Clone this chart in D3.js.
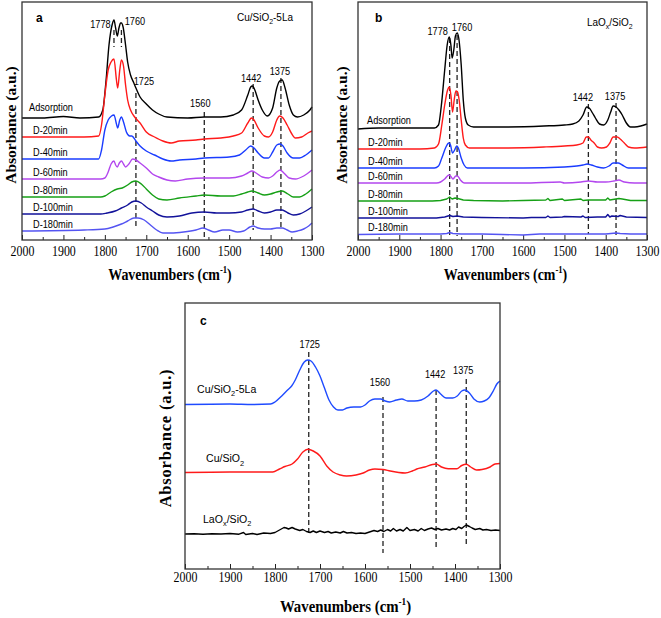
<!DOCTYPE html>
<html><head><meta charset="utf-8">
<script src="https://cdn.jsdelivr.net/npm/d3@7"></script>
<style>body{margin:0;background:#fff}svg{display:block}</style>
</head><body>
<svg id="chart" width="661" height="618"></svg>
<script>
// ---------- DATA (wavenumber cm-1, absorbance a.u.) ----------
const xTicks = [2000,1900,1800,1700,1600,1500,1400,1300];
const xMinor = [1950,1850,1750,1650,1550,1450,1350];
const seriesNames = ["Adsorption","D-20min","D-40min","D-60min","D-80min","D-100min","D-180min"];

// Panel a: Cu/SiO2-5La
const aAds = [[2000,1.22],[1950,1.22],[1900,1.235],[1860,1.22],[1815,1.23],[1805,1.30],[1797,1.60],[1790,1.95],[1782,2.16],[1778,2.20],[1774,2.12],[1770,2.04],[1766,2.12],[1762,2.17],[1760,2.17],[1756,2.13],[1750,1.95],[1745,1.78],[1738,1.65],[1730,1.57],[1725,1.52],[1715,1.43],[1700,1.36],[1685,1.30],[1670,1.26],[1650,1.23],[1600,1.22],[1560,1.23],[1520,1.23],[1490,1.25],[1470,1.30],[1455,1.45],[1448,1.53],[1444,1.54],[1438,1.50],[1430,1.40],[1420,1.30],[1408,1.24],[1395,1.32],[1385,1.52],[1378,1.59],[1372,1.60],[1365,1.52],[1355,1.35],[1345,1.25],[1335,1.23],[1320,1.25],[1305,1.30],[1300,1.33]];
const aD20 = [[2000,1.03],[1850,1.03],[1815,1.04],[1808,1.15],[1800,1.45],[1792,1.70],[1785,1.78],[1778,1.81],[1772,1.60],[1769,1.52],[1764,1.70],[1760,1.80],[1755,1.74],[1750,1.55],[1745,1.40],[1738,1.30],[1728,1.23],[1715,1.17],[1700,1.08],[1680,1.03],[1660,0.99],[1640,0.97],[1620,0.99],[1580,1.00],[1560,1.01],[1520,1.02],[1490,1.04],[1470,1.07],[1455,1.17],[1446,1.22],[1440,1.20],[1430,1.12],[1415,1.04],[1405,1.03],[1395,1.08],[1385,1.20],[1378,1.24],[1370,1.22],[1360,1.15],[1350,1.07],[1340,1.02],[1325,1.03],[1310,1.07],[1300,1.09]];
const aD40 = [[2000,0.81],[1815,0.81],[1808,0.90],[1800,1.10],[1792,1.20],[1784,1.24],[1778,1.25],[1772,1.16],[1769,1.12],[1764,1.20],[1760,1.23],[1755,1.18],[1748,1.08],[1740,1.04],[1735,1.04],[1725,0.99],[1715,0.94],[1700,0.89],[1680,0.85],[1660,0.81],[1640,0.79],[1620,0.80],[1580,0.81],[1560,0.82],[1500,0.83],[1475,0.85],[1460,0.90],[1448,0.94],[1440,0.92],[1430,0.87],[1415,0.82],[1405,0.82],[1395,0.88],[1385,0.95],[1377,0.96],[1370,0.94],[1360,0.87],[1345,0.82],[1330,0.82],[1315,0.85],[1300,0.90]];
const aD60 = [[2000,0.61],[1810,0.61],[1800,0.62],[1792,0.68],[1785,0.76],[1778,0.79],[1774,0.75],[1770,0.73],[1765,0.77],[1760,0.79],[1755,0.76],[1750,0.73],[1742,0.76],[1733,0.81],[1725,0.80],[1715,0.77],[1700,0.72],[1685,0.66],[1670,0.63],[1650,0.60],[1630,0.59],[1600,0.61],[1560,0.62],[1500,0.62],[1470,0.64],[1455,0.67],[1445,0.69],[1435,0.67],[1420,0.63],[1405,0.62],[1395,0.64],[1385,0.68],[1377,0.70],[1368,0.67],[1355,0.62],[1340,0.61],[1320,0.64],[1300,0.70]];
const aD80 = [[2000,0.43],[1810,0.43],[1800,0.44],[1785,0.48],[1770,0.51],[1758,0.52],[1745,0.55],[1735,0.58],[1725,0.59],[1712,0.56],[1700,0.51],[1685,0.45],[1670,0.41],[1650,0.40],[1620,0.42],[1580,0.44],[1560,0.45],[1520,0.44],[1490,0.44],[1470,0.46],[1455,0.48],[1445,0.49],[1430,0.47],[1415,0.45],[1400,0.46],[1385,0.48],[1372,0.49],[1358,0.46],[1345,0.43],[1330,0.43],[1315,0.46],[1300,0.51]];
const aD100 = [[2000,0.26],[1810,0.26],[1795,0.27],[1775,0.29],[1760,0.32],[1745,0.35],[1735,0.38],[1725,0.39],[1712,0.37],[1700,0.33],[1685,0.29],[1670,0.25],[1650,0.23],[1620,0.24],[1590,0.27],[1560,0.28],[1530,0.27],[1500,0.27],[1470,0.28],[1455,0.30],[1442,0.31],[1430,0.29],[1415,0.27],[1400,0.28],[1385,0.30],[1372,0.30],[1358,0.27],[1345,0.25],[1330,0.26],[1315,0.29],[1300,0.33]];
const aD180 = [[2000,0.09],[1850,0.10],[1800,0.11],[1780,0.13],[1760,0.16],[1745,0.19],[1730,0.22],[1720,0.22],[1705,0.20],[1690,0.15],[1675,0.10],[1660,0.07],[1640,0.07],[1610,0.08],[1580,0.10],[1563,0.12],[1550,0.10],[1535,0.08],[1515,0.10],[1500,0.10],[1480,0.08],[1465,0.09],[1450,0.13],[1442,0.14],[1430,0.12],[1415,0.11],[1400,0.11],[1385,0.12],[1372,0.12],[1360,0.10],[1348,0.08],[1335,0.09],[1320,0.11],[1308,0.14],[1300,0.17]];

// Panel b: LaOx/SiO2
const bAds = [[2000,1.11],[1950,1.12],[1900,1.12],[1850,1.12],[1815,1.12],[1805,1.15],[1798,1.35],[1790,1.70],[1784,1.95],[1779,2.03],[1775,1.95],[1772,1.82],[1768,1.90],[1764,2.04],[1760,2.07],[1756,2.02],[1750,1.75],[1745,1.40],[1740,1.22],[1733,1.15],[1720,1.13],[1650,1.13],[1550,1.14],[1500,1.15],[1480,1.16],[1465,1.19],[1455,1.25],[1446,1.33],[1440,1.32],[1432,1.27],[1425,1.22],[1415,1.16],[1405,1.15],[1395,1.20],[1388,1.28],[1382,1.34],[1375,1.33],[1368,1.30],[1360,1.25],[1350,1.17],[1340,1.13],[1330,1.13],[1315,1.14],[1300,1.16]];
const bD20 = [[2000,0.91],[1850,0.91],[1815,0.92],[1805,0.96],[1797,1.15],[1790,1.35],[1783,1.50],[1779,1.53],[1775,1.45],[1771,1.28],[1767,1.40],[1763,1.49],[1759,1.48],[1755,1.40],[1750,1.20],[1745,1.02],[1740,0.95],[1730,0.92],[1650,0.92],[1550,0.93],[1500,0.94],[1470,0.95],[1455,0.97],[1447,1.03],[1442,1.03],[1436,1.00],[1428,0.97],[1420,0.93],[1410,0.92],[1398,0.93],[1390,0.97],[1382,1.03],[1372,1.03],[1365,1.01],[1355,0.97],[1345,0.93],[1330,0.92],[1300,0.93]];
const bD40 = [[2000,0.72],[1815,0.72],[1805,0.74],[1797,0.82],[1788,0.92],[1780,0.97],[1776,0.95],[1771,0.87],[1766,0.90],[1761,0.94],[1757,0.92],[1750,0.82],[1743,0.75],[1735,0.72],[1600,0.72],[1500,0.73],[1470,0.74],[1455,0.75],[1445,0.76],[1435,0.75],[1420,0.73],[1405,0.72],[1392,0.74],[1382,0.77],[1370,0.77],[1360,0.75],[1345,0.72],[1300,0.72]];
const bD60 = [[2000,0.57],[1810,0.57],[1800,0.58],[1790,0.61],[1780,0.65],[1776,0.64],[1770,0.61],[1763,0.64],[1759,0.64],[1752,0.60],[1742,0.57],[1600,0.57],[1510,0.58],[1500,0.57],[1460,0.58],[1442,0.59],[1420,0.58],[1400,0.58],[1380,0.59],[1368,0.60],[1355,0.58],[1330,0.57],[1300,0.57]];
const bD80 = [[2000,0.39],[1900,0.39],[1820,0.39],[1800,0.395],[1785,0.41],[1778,0.43],[1772,0.41],[1765,0.42],[1758,0.415],[1745,0.40],[1720,0.395],[1650,0.39],[1600,0.395],[1545,0.40],[1540,0.415],[1535,0.395],[1505,0.41],[1500,0.395],[1460,0.41],[1455,0.395],[1442,0.40],[1400,0.40],[1395,0.42],[1390,0.40],[1368,0.415],[1360,0.41],[1340,0.395],[1300,0.395]];
const bD100 = [[2000,0.22],[1900,0.22],[1810,0.22],[1790,0.23],[1778,0.245],[1770,0.235],[1760,0.24],[1745,0.23],[1700,0.225],[1600,0.22],[1580,0.225],[1545,0.225],[1540,0.24],[1535,0.225],[1505,0.23],[1500,0.235],[1460,0.23],[1455,0.24],[1450,0.225],[1420,0.23],[1400,0.23],[1395,0.255],[1390,0.23],[1385,0.24],[1370,0.235],[1365,0.245],[1350,0.23],[1300,0.225]];
const bD180 = [[2000,0.055],[1900,0.06],[1800,0.06],[1785,0.065],[1778,0.075],[1770,0.065],[1750,0.06],[1700,0.06],[1650,0.055],[1600,0.05],[1560,0.06],[1500,0.06],[1450,0.06],[1400,0.06],[1375,0.07],[1365,0.065],[1340,0.06],[1300,0.06]];

// Panel c
const cCuLa = [[2000,1.645],[1900,1.65],[1850,1.645],[1810,1.65],[1800,1.67],[1785,1.73],[1772,1.79],[1763,1.83],[1755,1.89],[1745,1.99],[1735,2.07],[1727,2.09],[1720,2.08],[1710,2.02],[1700,1.93],[1690,1.81],[1680,1.69],[1670,1.62],[1660,1.59],[1650,1.59],[1640,1.61],[1625,1.62],[1610,1.62],[1600,1.64],[1590,1.68],[1578,1.70],[1565,1.70],[1555,1.68],[1545,1.67],[1530,1.69],[1518,1.70],[1505,1.68],[1490,1.68],[1475,1.69],[1460,1.73],[1448,1.78],[1442,1.79],[1432,1.75],[1420,1.71],[1405,1.71],[1395,1.73],[1385,1.78],[1378,1.79],[1368,1.76],[1358,1.70],[1345,1.67],[1335,1.68],[1325,1.71],[1315,1.78],[1307,1.85],[1300,1.88]];
const cCu = [[2000,0.965],[1900,0.97],[1805,0.97],[1790,1.00],[1778,1.025],[1762,1.05],[1750,1.10],[1738,1.17],[1727,1.197],[1715,1.18],[1700,1.13],[1685,1.03],[1671,0.97],[1655,0.94],[1641,0.93],[1620,0.94],[1604,0.96],[1590,0.99],[1578,1.00],[1560,0.995],[1544,0.98],[1525,0.965],[1511,0.96],[1495,0.98],[1485,1.00],[1467,1.02],[1450,1.045],[1442,1.05],[1430,1.02],[1415,1.003],[1396,1.003],[1385,1.035],[1375,1.047],[1365,1.02],[1352,0.99],[1340,0.995],[1322,1.02],[1311,1.05],[1300,1.055]];
const cLa = [[2000,0.35],[1980,0.352],[1960,0.348],[1940,0.353],[1920,0.35],[1900,0.355],[1880,0.348],[1870,0.365],[1865,0.345],[1850,0.355],[1840,0.345],[1825,0.36],[1810,0.355],[1800,0.365],[1790,0.39],[1780,0.415],[1775,0.41],[1770,0.40],[1762,0.415],[1755,0.40],[1745,0.385],[1738,0.395],[1730,0.375],[1722,0.365],[1715,0.38],[1708,0.365],[1700,0.38],[1690,0.365],[1682,0.375],[1675,0.36],[1665,0.37],[1655,0.36],[1648,0.375],[1640,0.36],[1630,0.365],[1620,0.355],[1610,0.36],[1600,0.355],[1590,0.37],[1580,0.385],[1572,0.375],[1565,0.39],[1558,0.375],[1550,0.395],[1543,0.38],[1537,0.405],[1530,0.38],[1522,0.395],[1515,0.38],[1507,0.415],[1500,0.385],[1490,0.395],[1482,0.38],[1475,0.405],[1468,0.385],[1460,0.40],[1452,0.41],[1445,0.395],[1438,0.405],[1430,0.39],[1420,0.40],[1412,0.39],[1405,0.405],[1398,0.395],[1392,0.42],[1385,0.405],[1380,0.425],[1375,0.44],[1368,0.425],[1362,0.41],[1355,0.395],[1345,0.405],[1338,0.39],[1330,0.395],[1320,0.385],[1310,0.39],[1300,0.385]];

// Marker lines: [wavenumber, top a.u., bottom a.u.]
const aMarks = [[1778,2.10,1.93],[1760,2.10,1.93],[1725,1.47,0.11],[1560,1.28,0.0],[1442,1.56,0.10],[1375,1.62,0.12]];
const bMarks = [[1778,2.02,0.04],[1760,2.05,0.04],[1442,1.36,0.06],[1375,1.37,0.05]];
const cMarks = [[1725,2.17,0.34],[1560,1.72,0.16],[1442,1.79,0.21],[1375,1.90,0.22]];
// Peak labels: [wavenumber, label height a.u.]
const aPeaks = [[1778,2.12],[1760,2.15],[1725,1.55],[1560,1.33],[1442,1.58],[1375,1.65]];
const bPeaks = [[1778,2.05],[1760,2.09],[1442,1.39],[1375,1.40]];
const cPeaks = [[1725,2.213],[1560,1.83],[1442,1.91],[1375,1.947]];

// ---------- DRAWING ----------
const svg = d3.select('#chart');
const SANS = "'Liberation Sans', Arial, sans-serif";
const SERIF = "'Liberation Serif', 'Times New Roman', serif";

function txt(g, x, y, parts, o) {
  const size = o.size;
  const t = g.append('text')
    .attr('transform', `translate(${x},${y})` + (o.rotate ? ` rotate(${o.rotate})` : '') + ` scale(${o.sx || 1},1)`)
    .attr('font-family', o.family || SANS)
    .attr('font-size', size)
    .attr('font-weight', o.weight || 'normal')
    .attr('text-anchor', o.anchor || 'start')
    .attr('letter-spacing', o.ls || 0)
    .attr('fill', '#000');
  let cur = 0;
  parts.forEach(p => {
    let s = p, target = 0, fs = size;
    if (typeof p === 'object') {
      s = p.t;
      if (p.sub) { target = size * 0.32; fs = size * 0.7; }
      if (p.sup) { target = -size * 0.42; fs = size * 0.62; }
    }
    t.append('tspan').attr('dy', target - cur).attr('font-size', fs).text(s);
    cur = target;
  });
  return t;
}

function panel(cfg) {
  const g = svg.append('g');
  const x = d3.scaleLinear().domain([2000, 1300]).range([cfg.x0, cfg.x1]);
  const y = d3.scaleLinear().domain([0, cfg.ymax]).range([cfg.y1, cfg.y0]);

  // minor & major ticks (inward)
  g.append('g').attr('transform', `translate(0,${cfg.y1})`)
    .call(d3.axisBottom(x).tickValues(xMinor).tickSize(-3).tickFormat(''))
    .call(a => a.select('.domain').remove())
    .selectAll('line').attr('stroke', '#222').attr('stroke-width', 1);
  const ax = g.append('g').attr('transform', `translate(0,${cfg.y1})`)
    .call(d3.axisBottom(x).tickValues(xTicks).tickSizeInner(-5).tickSizeOuter(0).tickPadding(cfg.tickPad).tickFormat(d3.format('d')));
  ax.select('.domain').remove();
  ax.selectAll('line').attr('stroke', '#222').attr('stroke-width', 1);
  ax.selectAll('text').attr('font-family', SERIF).attr('font-size', 14).attr('fill', '#000')
    .attr('transform', 'scale(0.85,1)');

  // marker dashes
  cfg.marks.forEach(m => {
    g.append('line').attr('x1', x(m[0])).attr('x2', x(m[0]))
      .attr('y1', y(m[1])).attr('y2', y(m[2]))
      .attr('stroke', '#222').attr('stroke-width', 1.3).attr('stroke-dasharray', '5,3');
  });

  // curves
  cfg.series.forEach(s => {
    const line = d3.line().x(d => x(d[0])).y(d => y(d[1]))
      .curve(s.noisy ? d3.curveLinear : d3.curveMonotoneX);
    g.append('path').datum(s.data).attr('d', line)
      .attr('fill', 'none').attr('stroke', s.color).attr('stroke-width', 1.4)
      .attr('stroke-linejoin', 'round');
    txt(g, cfg.x0 + s.lx, y(s.data[0][1]) - s.gap, s.label, {size: cfg.lblSize, sx: 0.92});
  });

  // peak labels
  cfg.peaks.forEach((p, i) => {
    txt(g, x(p[0]) + cfg.peakDx[i], y(p[1]), [String(p[0])], {size: 10, anchor: 'middle', sx: 0.92});
  });

  // frame
  g.append('rect').attr('x', cfg.x0).attr('y', cfg.y0)
    .attr('width', cfg.x1 - cfg.x0).attr('height', cfg.y1 - cfg.y0)
    .attr('fill', 'none').attr('stroke', '#333').attr('stroke-width', 1.3);

  // panel letter and sample name
  txt(g, cfg.letter[1], cfg.letter[2], [cfg.letter[0]], {size: 12, weight: 'bold'});
  if (cfg.sample) txt(g, cfg.sample.x, cfg.sample.y, cfg.sample.parts, {size: 10.5, sx: 0.95});

  // axis titles
  txt(g, (cfg.x0 + cfg.x1) / 2 + 3, cfg.titleY, ['Wavenumbers (cm', {t: '-1', sup: true}, {t: ')'}],
      {family: SERIF, size: cfg.titleSize, weight: 'bold', anchor: 'middle', sx: 0.87});
  txt(g, cfg.yLabel[0], cfg.yLabel[1], ['Absorbance (a.u.)'],
      {family: SERIF, size: cfg.yLabel[2], weight: 'bold', anchor: 'middle', rotate: -90, ls: cfg.yLabel[3] || 0});
}

const colors = ['#000000', '#ff1a1a', '#1a3cff', '#b347ee', '#16a016', '#12129a', '#5454f2'];
const aData = [aAds, aD20, aD40, aD60, aD80, aD100, aD180];
const bData = [bAds, bD20, bD40, bD60, bD80, bD100, bD180];

panel({
  x0: 22, x1: 312, y0: 2, y1: 240, ymax: 2.38, tickPad: 6.5, titleY: 280, titleSize: 16,
  lblSize: 10,
  series: aData.map((d, i) => ({data: d, color: colors[i], label: [seriesNames[i]], lx: i === 0 ? 7 : 11, gap: i === 0 ? 7 : 3})),
  marks: aMarks, peaks: aPeaks, peakDx: [-13.5, 13.5, 8, -4, -2, -1],
  letter: ['a', 36, 22],
  sample: {x: 237, y: 21, parts: ['Cu/SiO', {t: '2', sub: true}, {t: '-5La'}]},
  yLabel: [16, 125, 15.5]
});

panel({
  x0: 358, x1: 647, y0: 2, y1: 240, ymax: 2.38, tickPad: 6.5, titleY: 280, titleSize: 16,
  lblSize: 10,
  series: bData.map((d, i) => ({data: d, color: colors[i], label: [seriesNames[i]], lx: i === 0 ? 9 : 10, gap: i === 0 ? 5 : 3.5, noisy: i >= 4})),
  marks: bMarks, peaks: bPeaks, peakDx: [-12, 5, -5.5, -1],
  letter: ['b', 375, 22],
  sample: {x: 587, y: 26, parts: ['LaO', {t: 'x', sub: true}, {t: '/SiO'}, {t: '2', sub: true}]},
  yLabel: [347, 125, 15.5]
});

panel({
  x0: 185, x1: 500, y0: 303, y1: 569, ymax: 2.66, tickPad: 3, titleY: 612, titleSize: 17,
  lblSize: 11.5,
  series: [
    {data: cCuLa, color: '#1f4bff', label: ['Cu/SiO', {t: '2', sub: true}, {t: '-5La'}], lx: 12, gap: 12},
    {data: cCu, color: '#ff1a1a', label: ['Cu/SiO', {t: '2', sub: true}], lx: 21, gap: 10.5},
    {data: cLa, color: '#000000', label: ['LaO', {t: 'x', sub: true}, {t: '/SiO'}, {t: '2', sub: true}], lx: 18, gap: 11.5, noisy: true}
  ],
  marks: cMarks, peaks: cPeaks, peakDx: [1, -3, -1, -3],
  letter: ['c', 200, 325],
  yLabel: [171, 438, 16.5, 0.8]
});
</script>
</body></html>
